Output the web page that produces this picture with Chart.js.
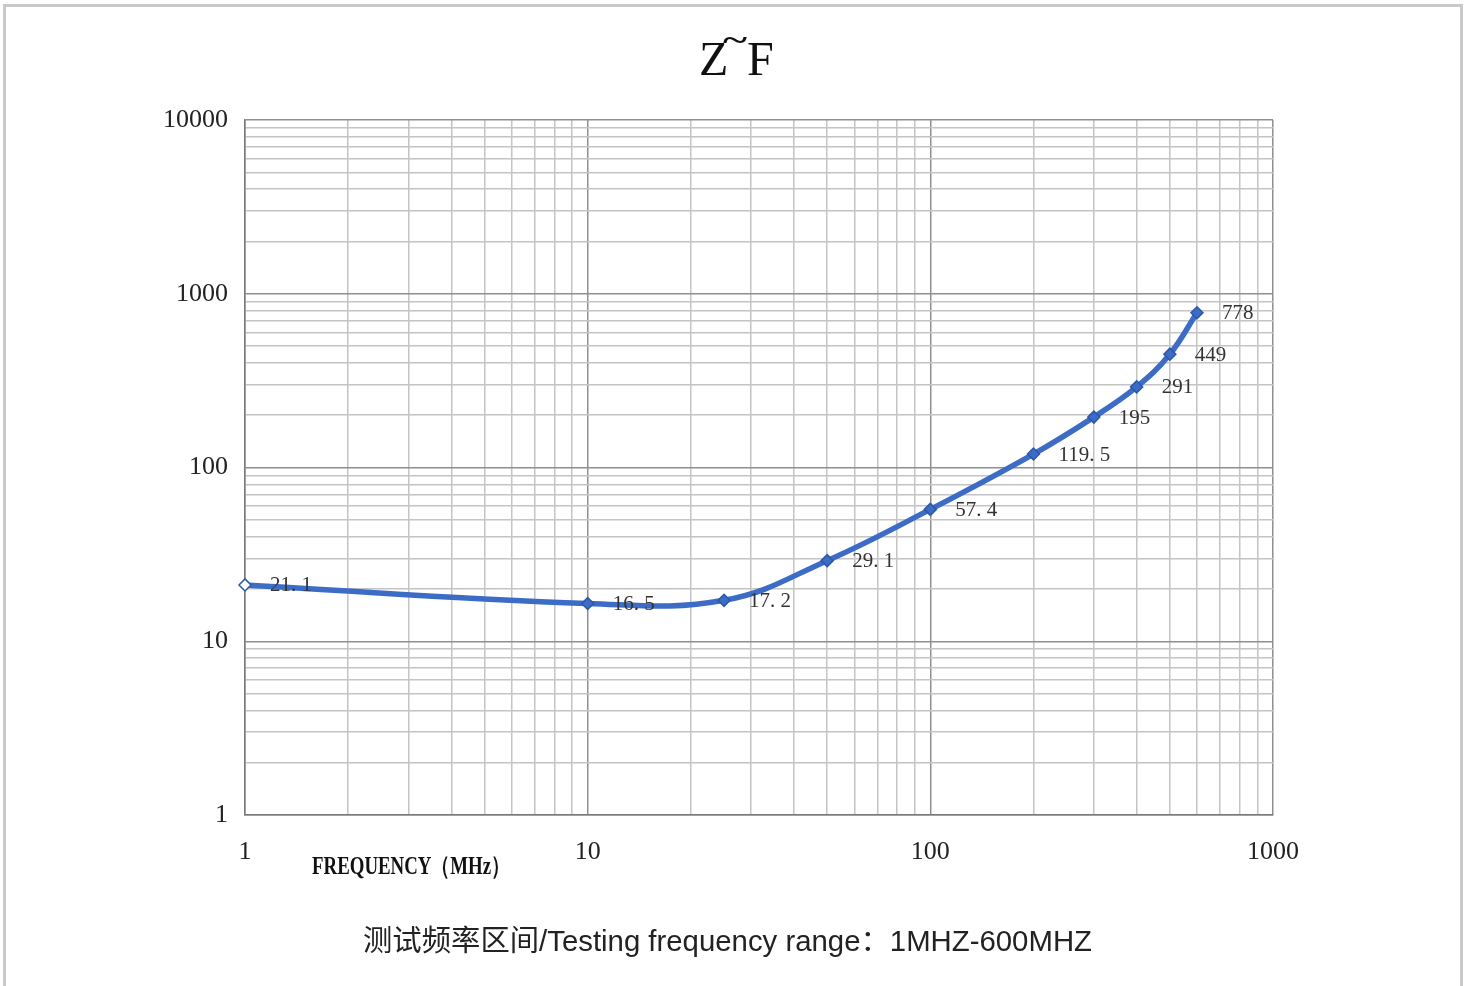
<!DOCTYPE html>
<html>
<head>
<meta charset="utf-8">
<script src="https://cdn.jsdelivr.net/npm/chart.js@4"></script>
<style>
    html, body { margin: 0; padding: 0; background: #fff; }
    #wrap { position: relative; width: 1471px; height: 986px; overflow: hidden; }
    #frame { position: absolute; left: 3px; top: 4px; width: 1454px; height: 1000px; border: 3px solid #c9c9c9; pointer-events: none; }
</style>
</head>
<body>
<div id="wrap">
    <canvas id="chart"></canvas>
    <div id="frame"></div>
</div>
<script>
// Datos de la curva Z~F
const frequencies = [1, 10, 25, 50, 100, 200, 300, 400, 500, 600];
const impedance = [21.1, 16.5, 17.2, 29.1, 57.4, 119.5, 195, 291, 449, 778];

// Etiquetas de los ejes (décadas)
const xTickLabels = [1, 10, 100, 1000];
const yTickLabels = [1, 10, 100, 1000, 10000];

const titleParts = ['Z', '~', 'F'];
const xAxisText = 'FREQUENCY（MHz）';
const captionText = '测试频率区间/Testing frequency range：1MHZ-600MHZ';

const SERIF = '"Liberation Serif", "DejaVu Serif", serif';
const LINE_BLUE = '#3c6cc5';

// rejilla logarítmica: 1..9 en cada década
const decadeTicks = (decades) => {
    const out = [];
    for (let i = 0; i < decades.length - 1; i++) {
        for (let s = 1; s <= 9; s++) out.push({ value: s * decades[i] });
    }
    out.push({ value: decades[decades.length - 1] });
    return out;
};

const gridColor = (ctx) => {
    const v = ctx.tick ? ctx.tick.value : 0;
    const lg = Math.log10(v);
    return Math.abs(lg - Math.round(lg)) < 1e-9 ? '#8f8f8f' : '#c4c4c4';
};

// texto comprimido a un ancho dado
const fitText = (ctx, text, x, y, width) => {
    const w = ctx.measureText(text).width;
    ctx.save();
    ctx.translate(x, y);
    ctx.scale(width / w, 1);
    ctx.fillText(text, 0, 0);
    ctx.restore();
};

const textPlugin = {
    id: 'texts',
    afterDraw: (chart) => {
        const ctx = chart.ctx;
        ctx.save();

        // título
        ctx.fillStyle = '#111';
        ctx.textBaseline = 'middle';
        ctx.textAlign = 'left';
        ctx.font = '48px ' + SERIF;
        ctx.fillText(titleParts[0], 699, 62);
        ctx.fillText(titleParts[2], 747, 62);
        ctx.font = 'bold 30px ' + SERIF;
        fitText(ctx, titleParts[1], 723, 42, 24);

        // etiqueta del eje X
        ctx.font = 'bold 25px ' + SERIF;
        ctx.textAlign = 'left';
        fitText(ctx, xAxisText, 312, 868, 198);

        // pie
        ctx.font = '29px "Liberation Sans", "Noto Sans CJK SC", sans-serif';
        ctx.fillStyle = '#222';
        fitText(ctx, captionText, 363, 943, 729);

        // etiquetas de los puntos
        const meta = chart.getDatasetMeta(0);
        ctx.font = '21px ' + SERIF;
        ctx.fillStyle = '#333';
        ctx.textAlign = 'left';
        meta.data.forEach((pt, i) => {
            const v = impedance[i];
            const label = Number.isInteger(v) ? String(v) : String(v).replace('.', '. ');
            ctx.fillText(label, pt.x + 25, pt.y + 1);
        });

        ctx.restore();
    }
};

const config = {
    type: 'line',
    data: {
        datasets: [{
            data: frequencies.map((f, i) => ({ x: f, y: impedance[i] })),
            borderColor: LINE_BLUE,
            borderWidth: 5.5,
            tension: 0.4,
            pointStyle: 'rectRot',
            pointRadius: 6,
            pointBorderWidth: 1.5,
            pointBorderColor: '#2b58a8',
            pointBackgroundColor: impedance.map((_, i) => i === 0 ? '#ffffff' : LINE_BLUE),
            clip: false,
        }]
    },
    options: {
        responsive: true,
        maintainAspectRatio: false,
        animation: false,
        layout: { padding: { left: 0, top: 120, right: 198, bottom: 0 } },
        plugins: {
            legend: { display: false },
            title: { display: false },
            tooltip: { enabled: false }
        },
        scales: {
            x: {
                type: 'logarithmic',
                min: 1,
                max: 1000,
                afterBuildTicks: (scale) => { scale.ticks = decadeTicks(xTickLabels); },
                afterFit: (scale) => { scale.height = 171; },
                grid: { color: gridColor, lineWidth: 1.5, drawTicks: false, tickLength: 0 },
                border: { color: '#7a7a7a', width: 1.5 },
                ticks: {
                    autoSkip: false,
                    maxRotation: 0,
                    padding: 22,
                    color: '#222',
                    font: { family: SERIF, size: 26 },
                    callback: (v) => xTickLabels.includes(v) ? String(v) : ''
                }
            },
            y: {
                type: 'logarithmic',
                min: 1,
                max: 10000,
                afterBuildTicks: (scale) => { scale.ticks = decadeTicks(yTickLabels); },
                afterFit: (scale) => { scale.width = 245; },
                grid: { color: gridColor, lineWidth: 1.5, drawTicks: false, tickLength: 0 },
                border: { color: '#7a7a7a', width: 1.5 },
                ticks: {
                    autoSkip: false,
                    padding: 17,
                    color: '#222',
                    font: { family: SERIF, size: 26 },
                    callback: (v) => yTickLabels.includes(v) ? String(v) : ''
                }
            }
        }
    },
    plugins: [textPlugin]
};

new Chart(document.getElementById('chart'), config);
</script>
</body>
</html>
